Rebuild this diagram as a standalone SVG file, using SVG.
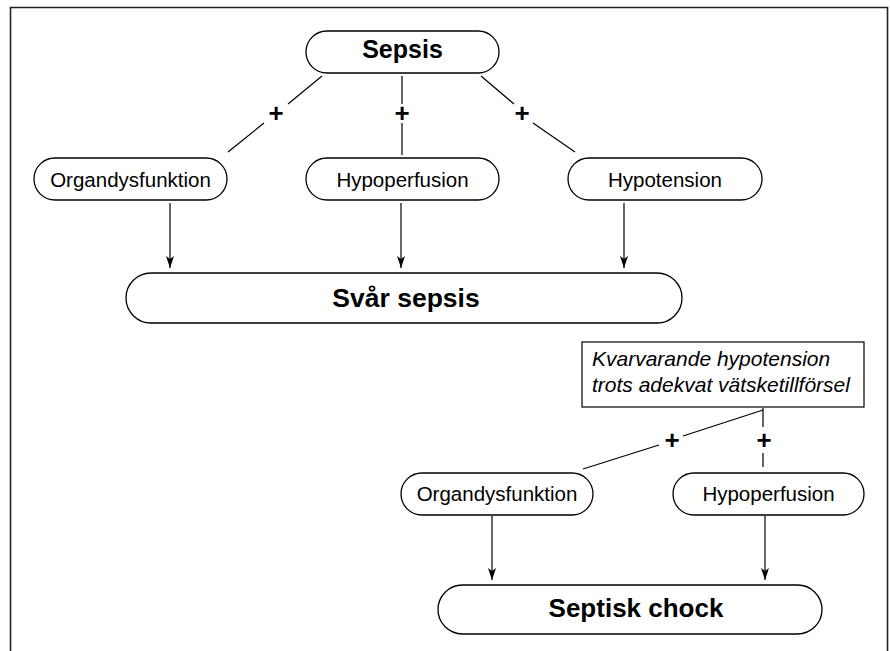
<svg xmlns="http://www.w3.org/2000/svg" width="890" height="651" viewBox="0 0 890 651">
<defs>
<style>
.node{fill:#fff;stroke:#000;stroke-width:1.3}
.ln{fill:none;stroke:#000;stroke-width:1.2}
.t{font-family:"Liberation Sans",Arial,sans-serif;fill:#000;text-anchor:middle}
.n{font-size:20.5px}
.b{font-weight:bold}
.p{font-size:26px;font-weight:bold}
.i{font-size:21px;font-style:italic;text-anchor:start}
</style>
<marker id="ah" viewBox="0 0 12 10" refX="12" refY="5" markerWidth="12" markerHeight="10" markerUnits="userSpaceOnUse" orient="auto">
<path d="M0,1 L12,5 L0,9 L3,5 Z" fill="#000"/>
</marker>
</defs>
<rect width="890" height="651" fill="#fff"/>
<path d="M10.5,651 V7.5 H887.5 V651" fill="none" stroke="#222" stroke-width="1.6"/>

<g id="connectors">
<path class="ln" d="M322,76 L288,104 M264,123 L228,152"/>
<path class="ln" d="M402,76 V104 M402,123 V155"/>
<path class="ln" d="M481,76 L514,104 M533,123 L575,152"/>
<path class="ln" d="M170,203 V268" marker-end="url(#ah)"/>
<path class="ln" d="M401,203 V268" marker-end="url(#ah)"/>
<path class="ln" d="M624,203 V268" marker-end="url(#ah)"/>
<path class="ln" d="M763,408 V427 M763,453 V467"/>
<path class="ln" d="M763,410 L683,436 M659,445 L583,469"/>
<path class="ln" d="M492,516 V580" marker-end="url(#ah)"/>
<path class="ln" d="M765,516 V580" marker-end="url(#ah)"/>
<text class="t p" x="276" y="122">+</text>
<text class="t p" x="402" y="122">+</text>
<text class="t p" x="522" y="122">+</text>
<text class="t p" x="672" y="449">+</text>
<text class="t p" x="764" y="449">+</text>
</g>

<g id="sepsis">
<rect class="node" x="306" y="31" width="193" height="42" rx="21"/>
<text class="t b" x="402.5" y="58" style="font-size:25px">Sepsis</text>
</g>
<g id="organdysfunktion1">
<rect class="node" x="34" y="158" width="193" height="42" rx="21"/>
<text class="t n" x="130.5" y="187">Organdysfunktion</text>
</g>
<g id="hypoperfusion1">
<rect class="node" x="306" y="158" width="193" height="42" rx="21"/>
<text class="t n" x="402.5" y="187">Hypoperfusion</text>
</g>
<g id="hypotension">
<rect class="node" x="568" y="158" width="194" height="42" rx="21"/>
<text class="t n" x="665" y="187">Hypotension</text>
</g>
<g id="svar-sepsis">
<rect class="node" x="126" y="273" width="556" height="50" rx="25"/>
<text class="t b" x="406" y="307" style="font-size:26.5px">Svår sepsis</text>
</g>
<g id="kvarvarande">
<rect x="582" y="342" width="282" height="65" fill="#fff" stroke="#000" stroke-width="1.2"/>
<text class="t i" x="592" y="366">Kvarvarande hypotension</text>
<text class="t i" x="592" y="392">trots adekvat vätsketillförsel</text>
</g>
<g id="organdysfunktion2">
<rect class="node" x="401" y="473" width="192" height="42" rx="21"/>
<text class="t n" x="497" y="501">Organdysfunktion</text>
</g>
<g id="hypoperfusion2">
<rect class="node" x="673" y="473" width="191" height="42" rx="21"/>
<text class="t n" x="768.5" y="501">Hypoperfusion</text>
</g>
<g id="septisk-chock">
<rect class="node" x="438" y="585" width="384" height="49" rx="24.5"/>
<text class="t b" x="636" y="617" style="font-size:26px">Septisk chock</text>
</g>
</svg>
